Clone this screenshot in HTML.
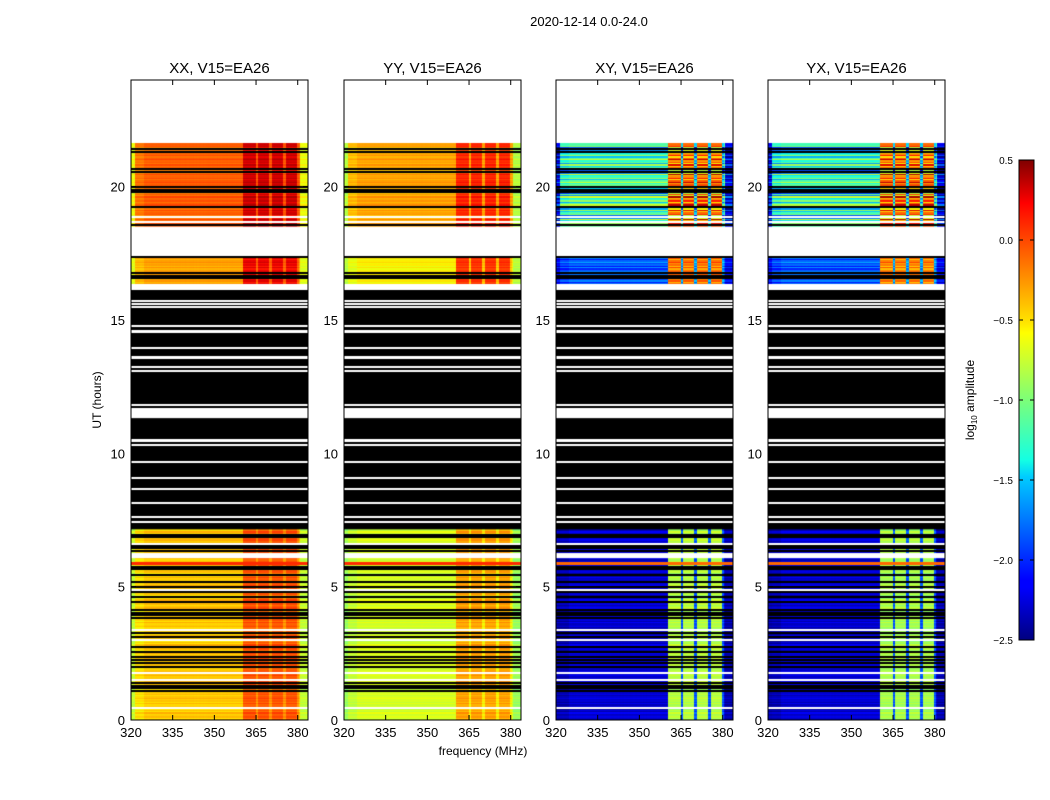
<!DOCTYPE html>
<html><head><meta charset="utf-8">
<style>
body{margin:0;background:#fff;width:1050px;height:800px;overflow:hidden;position:relative;font-family:"Liberation Sans",sans-serif;}
canvas{position:absolute;}
svg{position:absolute;left:0;top:0;}
text{font-family:"Liberation Sans",sans-serif;fill:#000;}
</style></head>
<body>
<canvas id="c0" width="177" height="640" style="left:131px;top:80px"></canvas>
<canvas id="c1" width="177" height="640" style="left:344px;top:80px"></canvas>
<canvas id="c2" width="177" height="640" style="left:556px;top:80px"></canvas>
<canvas id="c3" width="177" height="640" style="left:768px;top:80px"></canvas>
<svg id="ov" width="1050" height="800">
  <defs>
    <linearGradient id="jetg" x1="0" y1="1" x2="0" y2="0">
      <stop offset="0" stop-color="#00007f"/><stop offset="0.11" stop-color="#0000ff"/>
      <stop offset="0.125" stop-color="#0000ff"/><stop offset="0.34" stop-color="#00ccff"/>
      <stop offset="0.375" stop-color="#14ffe3"/><stop offset="0.5" stop-color="#7cff79"/>
      <stop offset="0.64" stop-color="#ffff00"/><stop offset="0.66" stop-color="#ffe600"/>
      <stop offset="0.89" stop-color="#ff1400"/><stop offset="0.91" stop-color="#ff0000" /><stop offset="1" stop-color="#800000"/>
    </linearGradient>
  </defs>
  <text x="589" y="26" font-size="13" text-anchor="middle">2020-12-14 0.0-24.0</text>
  <text x="483" y="755" font-size="12" text-anchor="middle">frequency (MHz)</text>
  <text x="101" y="400" font-size="12" text-anchor="middle" transform="rotate(-90 101 400)">UT (hours)</text>
  <rect x="1019" y="160" width="15" height="480" fill="url(#jetg)" stroke="#000" stroke-width="1"/>
  <text x="974" y="400" font-size="12" text-anchor="middle" transform="rotate(-90 974 400)">log<tspan font-size="8" dy="3">10</tspan><tspan dy="-3"> amplitude</tspan></text>
  <g id="axes"></g>
</svg>
<script>
// ---- data ----
const panelTitles = ["XX, V15=EA26","YY, V15=EA26","XY, V15=EA26","YX, V15=EA26"];
const xTicks = [320,335,350,365,380];
const yTicks = [0,5,10,15,20];
const cbTicks = [0.5,0.0,-0.5,-1.0,-1.5,-2.0,-2.5];
// data blocks (hours): bottom, mid, top
const dataBlocks = [[0,7.15],[16.35,17.4],[18.5,21.6]];
const blackZone = [7.15,16.15];
const blackLines = [21.41,21.30,20.66,20.55,19.99,19.88,19.80,19.24,18.56,17.36,16.76,16.65,16.58,
  6.94,6.86,6.45,6.52,6.34,5.74,5.66,5.44,5.18,4.99,4.80,4.61,4.43,4.13,4.01,3.94,3.83,3.26,3.11,2.74,2.55,2.36,2.25,2.14,1.99,1.39,1.28,1.20,1.09];
const whiteLines = [16.16,15.71,15.60,15.49,14.78,14.55,14.58,13.95,13.58,13.62,13.24,13.09,11.81,10.46,10.5,10.31,9.68,9.08,8.66,8.14,7.61,7.43,
  6.60,4.88,3.38,3.00,1.76,1.50,0.45,18.86,18.68];
const whiteBands = [[17.4,18.5],[11.32,11.7],[6.07,6.26]];
const hotRows = [5.89];
const bandRanges = [[360.3,364.6],[365.7,369.6],[370.7,374.7],[375.8,379.7]];
// per-panel log-amplitude levels for blocks [bottom, mid, top]
const baseXX = [-0.42,-0.3,-0.08], bandXX = [-0.05,0.2,0.28], gapXX = [-0.25,-0.1,-0.05], edgeXX = [-0.75,-0.65,-0.6];
const baseYY = [-0.68,-0.55,-0.3], bandYY = [-0.3,0.05,0.1], gapYY = [-0.55,-0.4,-0.3], edgeYY = [-0.9,-0.8,-0.8];
const baseXY = [-2.3,-1.9,-1.25], bandXY = [-0.8,-0.2,-0.2], gapXY = [-1.9,-1.7,-1.6], edgeXY = [-2.4,-2.2,-2.3];
const baseYX = [-2.3,-1.9,-1.3], bandYX = [-0.85,-0.25,-0.2], gapYX = [-1.9,-1.7,-1.6], edgeYX = [-2.4,-2.2,-2.3];
const rowJitter = [0.05,-0.1,0.12,0.0,-0.05,0.2,-0.15,0.08,-0.2,0.1,0.03,-0.08,0.15,-0.12,0.06,-0.02,0.18];
const crossJitterScale = [0.6,1.5,3.0];
const parJitterScale = 0.5;

const levels = [[baseXX,bandXX,gapXX,edgeXX],[baseYY,bandYY,gapYY,edgeYY],[baseXY,bandXY,gapXY,edgeXY],[baseYX,bandYX,gapYX,edgeYX]];
// ---- axes ----
const PW=177, PH=640, F0=320, F1=383.7, T1=24;
const lefts=[131,344,556,768], TOP=80;
function xOf(f){return (f-F0)/(F1-F0)*PW;}
function yOf(t){return PH - t/T1*PH;}
function lin(stops,x){for(let i=1;i<stops.length;i++){if(x<=stops[i][0]){const a=stops[i-1],b=stops[i];return a[1]+(b[1]-a[1])*(x-a[0])/(b[0]-a[0]);}}return stops[stops.length-1][1];}
function jet(v){let x=(v+2.5)/3;x=Math.max(0,Math.min(1,x));
 const r=lin([[0,0],[0.35,0],[0.66,1],[0.89,1],[1,0.5]],x),g=lin([[0,0],[0.125,0],[0.375,1],[0.64,1],[0.91,0],[1,0]],x),b=lin([[0,0.5],[0.11,1],[0.34,1],[0.65,0],[1,0]],x);
 return `rgb(${Math.round(r*255)},${Math.round(g*255)},${Math.round(b*255)})`;}
function chanLevel(p,blk,f){const L=levels[p];
 if(f<321.5||f>380.5) return L[3][blk];
 for(const br of bandRanges){if(f>=br[0]&&f<br[1]) return L[1][blk];}
 if(f>=360.3&&f<380.5) return L[2][blk];
 return L[0][blk]+(f<325?-0.08:0);}
const dt=0.05, df=0.5;
for(let p=0;p<4;p++){
 const ctx=document.getElementById('c'+p).getContext('2d');
 ctx.fillStyle='#fff';ctx.fillRect(0,0,PW,PH);
 dataBlocks.forEach((blk,bi)=>{
  let r=0;
  for(let t=blk[0];t<blk[1]-1e-6;t+=dt,r++){
   const cross=p>=2, j=rowJitter[r%rowJitter.length]*(cross?crossJitterScale[bi]:parJitterScale);
   let hot=hotRows.some(h=>Math.abs(h-t)<dt);
   for(let f=F0;f<F1;f+=df){
    let v=chanLevel(p,bi,f)+j+0.03*rowJitter[(Math.round(f*2))%rowJitter.length];
    if(hot) v=cross?-0.1:0.1;
    ctx.fillStyle=jet(v);
    const x0=xOf(f),x1=xOf(f+df),y0=yOf(t+dt),y1=yOf(t);
    ctx.fillRect(Math.floor(x0),Math.floor(y0),Math.ceil(x1)-Math.floor(x0),Math.ceil(y1)-Math.floor(y0));
   }
  }
 });
 ctx.fillStyle='#000';
 ctx.fillRect(0,yOf(blackZone[1]),PW,yOf(blackZone[0])-yOf(blackZone[1]));
 blackLines.forEach(h=>{ctx.fillRect(0,Math.round(yOf(h))-1,PW,2);});
 ctx.fillStyle='#fff';
 whiteBands.forEach(b=>{ctx.fillRect(0,yOf(b[1]),PW,yOf(b[0])-yOf(b[1]));});
 whiteLines.forEach(h=>{ctx.fillRect(0,Math.round(yOf(h))-1,PW,2);});
}
// ---- overlay axes ----
const NS="http://www.w3.org/2000/svg", g=document.getElementById('axes');
function mk(tag,attrs,txt){const e=document.createElementNS(NS,tag);for(const k in attrs)e.setAttribute(k,attrs[k]);if(txt!==undefined)e.textContent=txt;g.appendChild(e);return e;}
lefts.forEach((L,p)=>{
 const fr=mk('rect',{x:L,y:TOP,width:PW,height:PH,fill:'none',stroke:'#000','stroke-width':1});
 
 
 const tt=mk('text',{x:L+PW/2,y:73,'font-size':15,'text-anchor':'middle'},panelTitles[p]);
 
 
 xTicks.forEach(v=>{const x=L+xOf(v);
  mk('line',{x1:x,x2:x,y1:TOP+PH,y2:TOP+PH-5,stroke:'#000'});
  mk('line',{x1:x,x2:x,y1:TOP,y2:TOP+5,stroke:'#000'});
  const t=mk('text',{x:x,y:737,'font-size':13,'text-anchor':'middle'},String(v));
  
  
 });
 yTicks.forEach(v=>{const y=TOP+yOf(v);
  mk('line',{x1:L,x2:L+5,y1:y,y2:y,stroke:'#000'});
  mk('line',{x1:L+PW,x2:L+PW-5,y1:y,y2:y,stroke:'#000'});
  const t=mk('text',{x:L-6,y:y+5,'font-size':13,'text-anchor':'end'},String(v));
  
  
 });
});
cbTicks.forEach(v=>{const y=160+(0.5-v)/3*480;
 mk('line',{x1:1019,x2:1023,y1:y,y2:y,stroke:'#000'});
 mk('line',{x1:1034,x2:1030,y1:y,y2:y,stroke:'#000'});
 const t=mk('text',{x:1013,y:y+4,'font-size':10,'text-anchor':'end'},v.toFixed(1).replace('-','\u2212'));
 
 
});
</script>
</body></html>
